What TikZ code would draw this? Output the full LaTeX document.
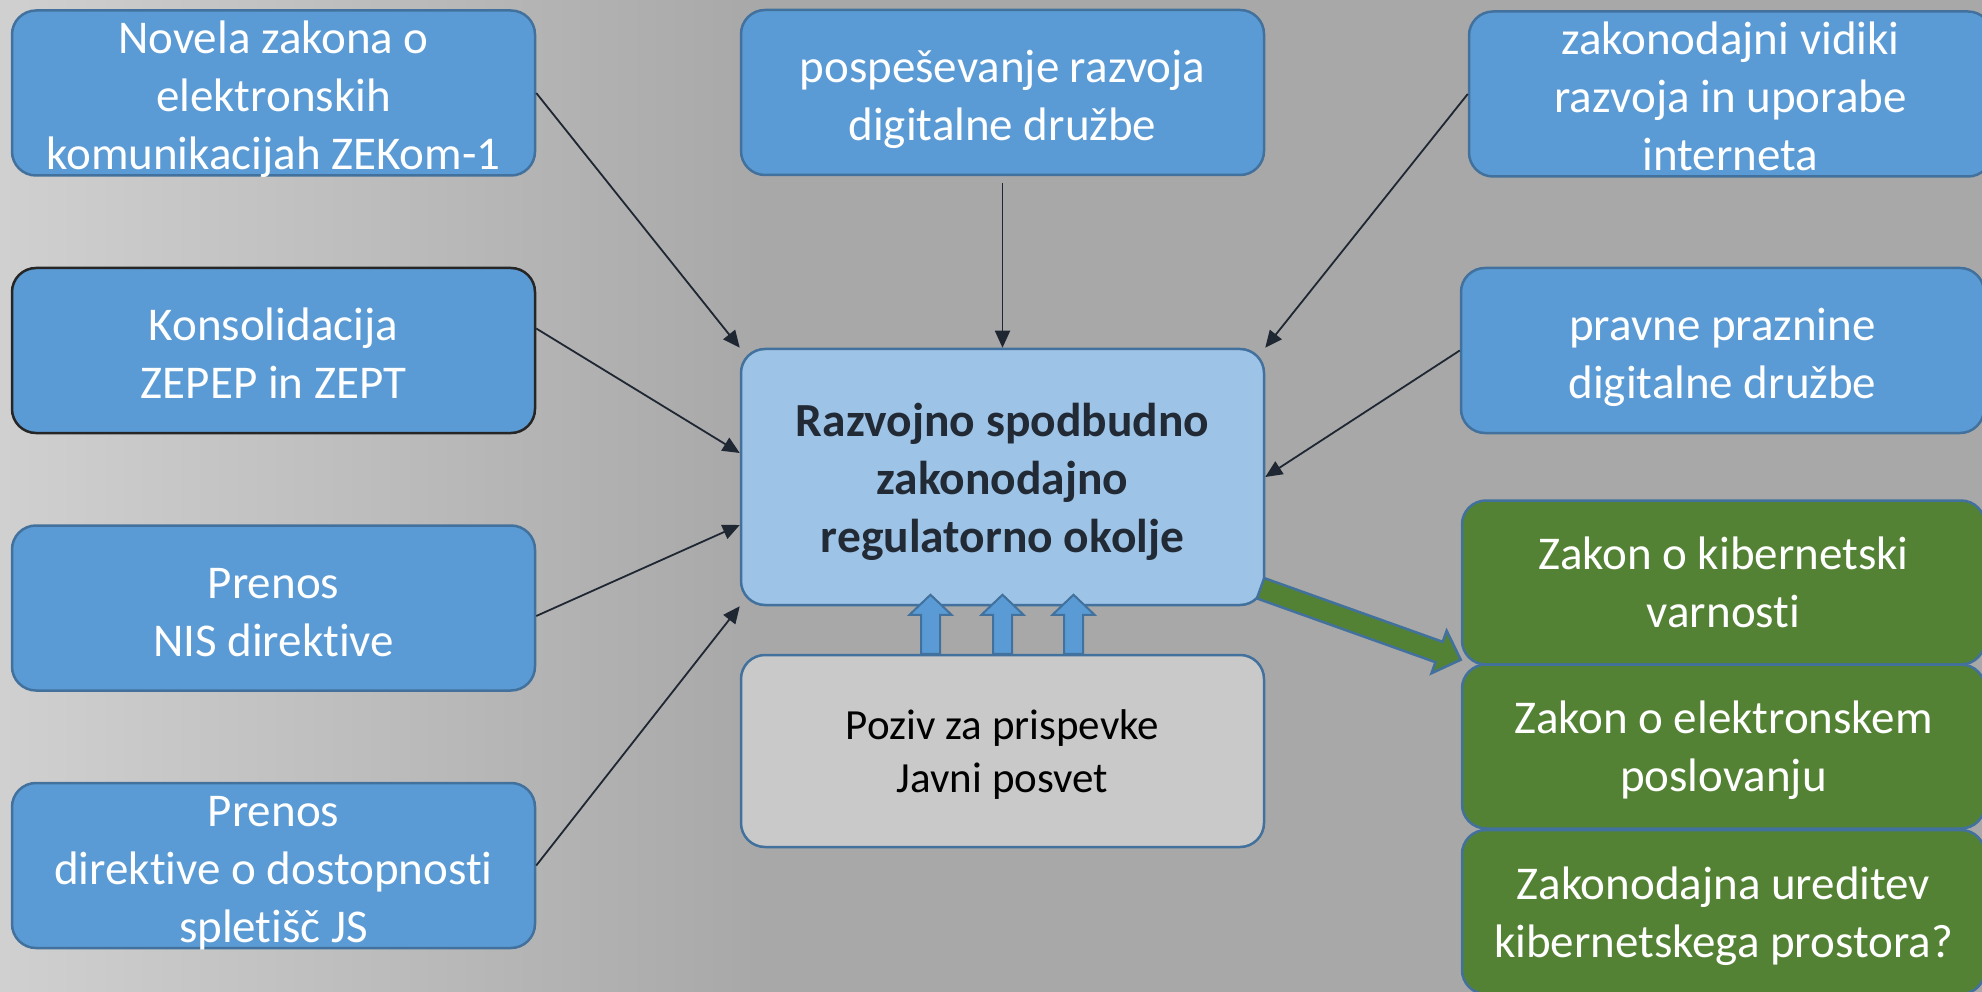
\documentclass[tikz,border=0pt]{standalone}
\usepackage{fontspec}
\setmainfont{Carlito}[Ligatures=NoCommon]
\usetikzlibrary{arrows.meta,calc}
\definecolor{boxblue}{HTML}{5B9BD5}
\definecolor{boxedge}{HTML}{41719C}
\definecolor{lightblue}{HTML}{9DC3E6}
\definecolor{boxgrey}{HTML}{C9C9C9}
\definecolor{boxgreen}{HTML}{548235}
\definecolor{arrowdark}{HTML}{1F2733}
\definecolor{navytext}{HTML}{222A35}
\definecolor{bgmid}{HTML}{A8A8A8}
\definecolor{bglight}{HTML}{D0D0D0}
% line struts (PowerPoint-like line boxes)
\newcommand\lsb{\rule[-10pt]{0pt}{58pt}}
\newcommand\lsn{\rule[-13pt]{0pt}{58pt}}
\newcommand\lsc{\rule[-12pt]{0pt}{58pt}}
\newcommand\lsg{\rule[-11.5pt]{0pt}{53pt}}
\begin{document}
\begin{tikzpicture}[x=1pt,y=-1pt,
  box/.style={rectangle, rounded corners=24pt, draw=boxedge, line width=2.5pt,
    fill=boxblue, text=white, minimum width=523pt, minimum height=165pt,
    inner xsep=0pt, inner ysep=-30pt, align=center, font=\fontsize{47}{58}\selectfont},
  darkbox/.style={box, draw=black!85},
  centerbox/.style={box, fill=lightblue, text=navytext, minimum height=256pt,
    font=\fontsize{47.5}{58}\selectfont\bfseries},
  greybox/.style={box, fill=boxgrey, text=black, minimum height=192pt,
    font=\fontsize{43}{53}\selectfont},
  greenbox/.style={box, fill=boxgreen, minimum height=164pt},
  conn/.style={draw=arrowdark, line width=1.8pt, -{Triangle[length=17pt,width=15pt]}},
  blockarrow/.style={fill=boxblue, draw=boxedge, line width=2pt, line join=miter},
  greenarrow/.style={fill=boxgreen, draw=boxedge, line width=2.5pt, line join=miter}
]
% background
\fill[bgmid] (0,0) rectangle (1982,992);
\shade[left color=bglight, right color=bgmid] (0,0) rectangle (760,992);
\useasboundingbox (0,0) rectangle (1982,992);

% left column
\node[box] (b1) at (273.5,93) {\lsb Novela zakona o\\\lsb elektronskih\\\lsb komunikacijah ZEKom-1};
\node[darkbox] (b2) at (273.5,350.5) {\lsb Konsolidacija\\\lsb ZEPEP in ZEPT};
\node[box] (b3) at (273.5,608) {\lsb Prenos\\\lsb NIS direktive};
\node[box] (b4) at (273.5,865.5) {\lsb Prenos\\\lsb direktive o dostopnosti\\\lsb spletišč JS};

% middle column
\node[box] (t) at (1002.5,92.5) {\lsb pospeševanje razvoja\\\lsb digitalne družbe};
\node[centerbox] (c) at (1002.5,477) {\lsc Razvojno spodbudno\\\lsc zakonodajno\\\lsc regulatorno okolje};
\node[greybox] (gr) at (1002.5,751) {\lsg Poziv za prispevke\\\lsg Javni posvet};

% right column
\node[box] (tr) at (1730.5,94) {\lsb zakonodajni vidiki\\\lsb razvoja in uporabe\\\lsb interneta};
\node[box] (pr) at (1722.5,350.5) {\lsb pravne praznine\\\lsb digitalne družbe};
\node[greenbox] (g1) at (1723.5,582.5) {\lsn Zakon o kibernetski\\\lsn varnosti};
\node[greenbox] (g2) at (1723.5,746.5) {\lsn Zakon o elektronskem\\\lsn poslovanju};
\node[greenbox] (g3) at (1723.5,912) {\lsn Zakonodajna ureditev\\\lsn kibernetskega prostora?};

% connectors into the centre box
\draw[conn] (b1.east) -- (c.north west);
\draw[conn] ([yshift=22pt]b2.east) -- ([yshift=24pt]c.west);
\draw[conn] ([yshift=-8pt]b3.east) -- ([yshift=-48pt]c.west);
\draw[conn] (b4.east) -- (c.south west);
\draw[conn] ([yshift=-7pt]t.south) -- (c.north);
\draw[conn] (tr.west) -- (c.north east);
\draw[conn] (pr.west) -- (c.east);

% three block arrows from the grey box
\foreach \dx in {-72,0,71}{
  \draw[blockarrow] ([xshift=\dx pt]gr.north) ++(-9.5,0) -- ++(0,-39) -- ++(-11.5,0)
     -- ++(21,-20) -- ++(21,20) -- ++(-11.5,0) -- ++(0,39) -- cycle;
}

% green block arrow
\coordinate (gs) at ([shift={(-4.7pt,18pt)}]c.south east);
\coordinate (gt) at ([yshift=6pt]g1.south west);
\coordinate (hb) at ($(gt)!23pt!(gs)$);
\draw[greenarrow] ($(gs)!10.8pt!90:(gt)$) -- ($(hb)!10.8pt!90:(gt)$)
  -- ($(hb)!22.5pt!90:(gt)$) -- (gt) -- ($(hb)!22.5pt!-90:(gt)$)
  -- ($(hb)!10.8pt!-90:(gt)$) -- ($(gs)!10.8pt!-90:(gt)$) -- cycle;
\end{tikzpicture}
\end{document}
